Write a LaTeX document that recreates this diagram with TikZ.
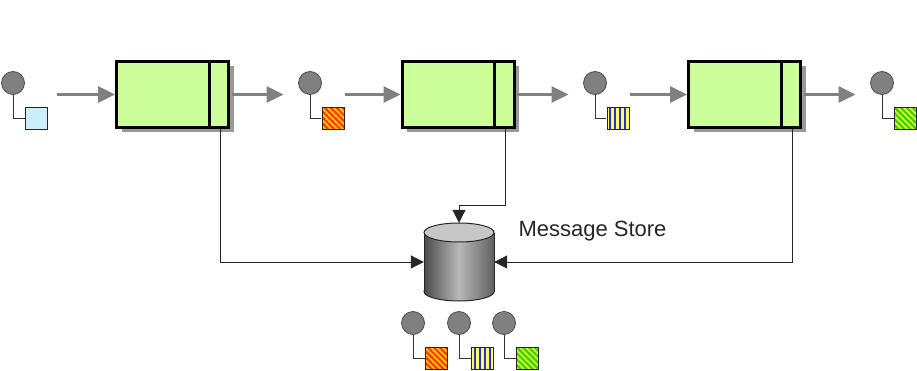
\documentclass[tikz,border=0pt]{standalone}
\usepackage{fontspec}
\setmainfont{Liberation Sans}
\usetikzlibrary{arrows.meta,shadows,patterns.meta,positioning}

\definecolor{filterfill}{HTML}{CCFF99}
\definecolor{tokblue}{HTML}{CCEEFF}
\definecolor{tokred}{HTML}{FF3A00}
\definecolor{tokorange}{HTML}{FFCC00}
\definecolor{tokdarkblue}{HTML}{2E2ECC}
\definecolor{tokyellow}{HTML}{FFFF66}
\definecolor{tokgreen}{HTML}{44CC00}
\definecolor{toklime}{HTML}{CCFF33}

\tikzset{
  filter/.style={draw,line width=3pt,fill=filterfill,minimum width=112pt,
    minimum height=66pt,inner sep=0pt,
    drop shadow={shadow xshift=5pt,shadow yshift=-5pt,fill=black!40,opacity=1}},
  flow/.style={draw=black!50,line width=3pt,-{Triangle[length=17pt,width=16pt]}},
  conn/.style={draw=black!85,line width=1pt,-{Triangle[length=13pt,width=13pt]}},
  dot/.style={circle,draw=black!70,fill=black!50,line width=0.8pt,
    minimum size=23pt,inner sep=0pt},
  tok/.style={draw=black!85,line width=0.8pt,minimum size=22pt,inner sep=0pt},
  plain tok/.style={tok,fill=tokblue},
  orange tok/.style={tok,preaction={fill=tokorange},
    pattern={Lines[angle=-45,distance=4.2pt,line width=2.2pt]},pattern color=tokred},
  blue tok/.style={tok,preaction={fill=tokyellow},
    pattern={Lines[angle=90,distance=5pt,line width=2.8pt]},pattern color=tokdarkblue},
  green tok/.style={tok,preaction={fill=toklime},
    pattern={Lines[angle=-45,distance=4.2pt,line width=2.2pt]},pattern color=tokgreen},
  stem/.style={draw=black!80,line width=0.8pt},
  cylline/.style={draw=black!85,line width=1pt},
  cylbody/.style={left color=black!70,right color=black!62,middle color=black!28}
}

\begin{document}
\begin{tikzpicture}[x=1pt,y=-1pt]
  \useasboundingbox (0,0) rectangle (917,371);

  % filters
  \node[filter] (box1) at (172.5,94.5) {};
  \node[filter] (box2) at (458,94.5) {};
  \node[filter] (box3) at (744.5,94.5) {};
  \foreach \b in {box1,box2,box3}
    \draw[line width=3pt] ([xshift=-21pt]\b.north east) -- ([xshift=-21pt]\b.south east);

  % tokens
  \foreach \n/\x/\y/\s in {in1/13/83/plain tok, out1/310/83/orange tok,
      out2/595/83/blue tok, out3/882/83/green tok,
      st1/413/323/orange tok, st2/459/323/blue tok, st3/504/323/green tok} {
    \node[dot] (\n-c) at (\x,\y) {};
    \node[\s] (\n) at (\x+23,\y+35.5) {};
    \draw[stem] (\n-c.south) |- (\n.west);
  }

  % message store
  \node[minimum width=70pt,minimum height=78pt,inner sep=0pt] (store) at (459,262) {};
  \draw[cylline,cylbody] (459,291.5) ellipse [x radius=35,y radius=9.5];
  \fill[cylbody] (424,232.5) rectangle (494,291.5);
  \draw[cylline] (424,232.5) -- (424,291.5) (494,232.5) -- (494,291.5);
  \draw[cylline,fill=black!22] (459,232.5) ellipse [x radius=35,y radius=9.5];
  \node[anchor=west,font=\fontsize{22}{26}\selectfont,text=black!85] (storelabel)
    at (515,231) {Message Store};

  % message flow
  \draw[flow,shorten <=10pt] (in1.east |- box1.west) -- (box1.west);
  \draw[flow,shorten <=1.5pt,shorten >=14.5pt] (box1.east) -- (box1.east -| out1-c.west);
  \draw[flow] (out1.east |- box2.west) -- (box2.west);
  \draw[flow,shorten <=1.5pt,shorten >=14.5pt] (box2.east) -- (box2.east -| out2-c.west);
  \draw[flow] (out2.east |- box3.west) -- (box3.west);
  \draw[flow,shorten <=1.5pt,shorten >=14.5pt] (box3.east) -- (box3.east -| out3-c.west);

  % store connections
  \draw[conn] ([xshift=-10pt]box1.south east) |- (store.west);
  \draw[conn] ([xshift=-10pt]box3.south east) |- (store.east);
  \draw[conn] ([xshift=-10pt]box2.south east) -- ++(0,77) -| (store.north);
\end{tikzpicture}
\end{document}
